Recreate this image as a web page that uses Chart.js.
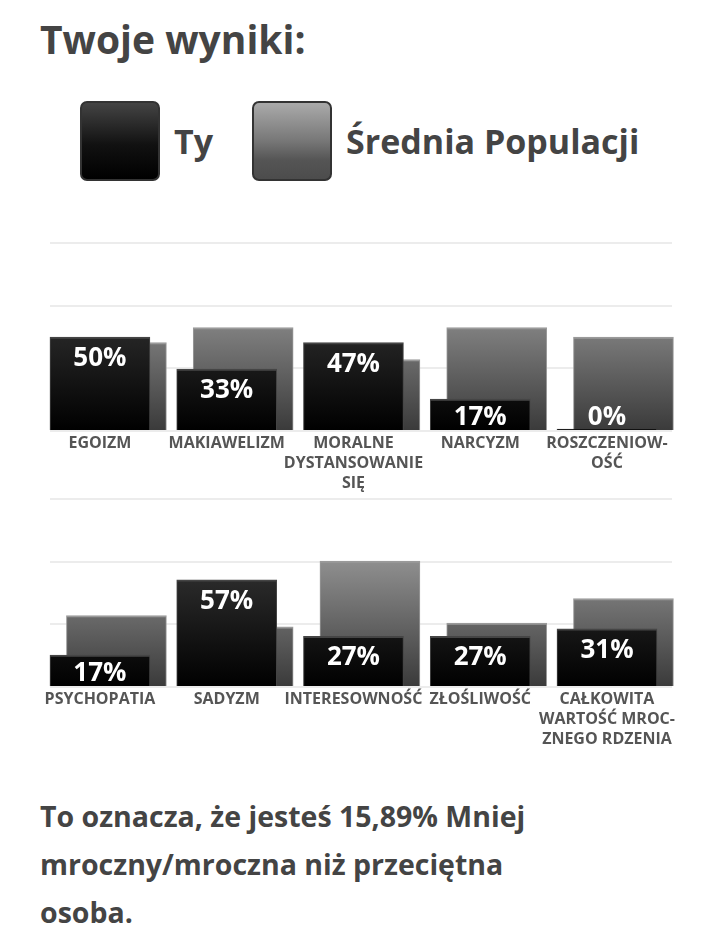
<!DOCTYPE html>
<html>
<head>
<meta charset="utf-8">
<script src="https://cdn.jsdelivr.net/npm/chart.js@4/dist/chart.umd.min.js"></script>
<style>
  body { margin: 0; background: #fff; font-family: "Open Sans", sans-serif; color: #444; }
  .page { position: relative; width: 720px; height: 942px; overflow: hidden; }
  h1 { position: absolute; left: 40px; top: 12px; margin: 0; font-size: 39px; font-weight: 700; line-height: 54px; }
  .legend { position: absolute; top: 101px; left: 80px; display: flex; align-items: center; }
  .legend .box { width: 76px; height: 76px; border: 2px solid #333; border-radius: 7px; }
  .legend .ty { background: linear-gradient(#444 0%, #111 55%, #000 100%); }
  .legend .avg { background: linear-gradient(#aaa 0%, #777 50%, #555 75%, #4c4c4c 100%); }
  .legend span { font-size: 34px; font-weight: 700; margin: 0 0 0 14px; line-height: 40px; }
  .legend span.first { margin-right: 39px; }
  canvas { position: absolute; left: 0; }
  #top { top: 230px; }
  #bottom { top: 486px; }
  .summary { position: absolute; left: 40px; top: 792px; margin: 0; font-size: 28.5px; font-weight: 700; line-height: 48px; }
</style>
</head>
<body>
<div class="page">
  <h1>Twoje wyniki:</h1>
  <div class="legend">
    <div class="box ty"></div><span class="first">Ty</span>
    <div class="box avg"></div><span>Średnia Populacji</span>
  </div>
  <canvas id="top" width="720" height="270"></canvas>
  <canvas id="bottom" width="720" height="270"></canvas>
  <p class="summary">To oznacza, że jesteś 15,89% Mniej<br>mroczny/mroczna niż przeciętna<br>osoba.</p>
</div>
<script>
const labelsTop = ["EGOIZM", "MAKIAWELIZM", ["MORALNE", "DYSTANSOWANIE", "SIĘ"], "NARCYZM", ["ROSZCZENIOW-", "OŚĆ"]];
const tyTop = [50, 33, 47, 17, 0];
const avgTop = [47, 55, 38, 55, 50];

const labelsBottom = ["PSYCHOPATIA", "SADYZM", "INTERESOWNOŚĆ", "ZŁOŚLIWOŚĆ", ["CAŁKOWITA", "WARTOŚĆ MROC-", "ZNEGO RDZENIA"]];
const tyBottom = [17, 57, 27, 27, 31];
const avgBottom = [38, 32, 67, 34, 47];

const seriesNames = ["Ty", "Średnia Populacji"];
const yMax = 100;
const yStep = 100 / 3;

// the average bar sits a bit to the right of the "Ty" bar
const avgShift = 0.13;

function areaGradient(top, bottom) {
  return (ctx) => {
    const area = ctx.chart.chartArea;
    if (!area) return bottom;
    const g = ctx.chart.ctx.createLinearGradient(0, area.top, 0, area.bottom);
    g.addColorStop(0, top);
    g.addColorStop(1, bottom);
    return g;
  };
}

const valueLabels = {
  id: "valueLabels",
  afterDatasetsDraw(chart) {
    const ctx = chart.ctx;
    const meta = chart.getDatasetMeta(0);
    const base = chart.scales.y.getPixelForValue(0);
    ctx.save();
    ctx.fillStyle = "#fff";
    ctx.font = "bold 26px 'Open Sans'";
    ctx.textAlign = "center";
    ctx.textBaseline = "alphabetic";
    meta.data.forEach((bar, i) => {
      const v = chart.data.datasets[0].data[i].y;
      const y = Math.min(bar.y + 29, base - 6);
      ctx.fillText(v + "%", bar.x, y);
    });
    ctx.restore();
  },
};

function renderChart(id, labels, ty, avg) {
  new Chart(document.getElementById(id), {
    type: "bar",
    data: {
      datasets: [
        {
          label: seriesNames[0],
          data: ty.map((v, i) => ({ x: i, y: v })),
          backgroundColor: areaGradient("#4a4a4a", "#000"),
          borderColor: "#454545",
          borderWidth: { top: 2, left: 1, right: 1, bottom: 0 },
          minBarLength: 2,
          clip: false,
        },
        {
          label: seriesNames[1],
          data: avg.map((v, i) => ({ x: i + avgShift, y: v })),
          backgroundColor: areaGradient("#b8b8b8", "#3a3a3a"),
          borderColor: "#9a9a9a",
          borderWidth: { top: 2, left: 1, right: 1, bottom: 0 },
          clip: false,
        },
      ],
    },
    options: {
      responsive: false,
      animation: false,
      grouped: false,
      barThickness: 100,
      layout: { padding: { top: 13, left: 50, right: 48, bottom: 5 } },
      plugins: { legend: { display: false }, tooltip: { enabled: false } },
      scales: {
        x: {
          type: "linear",
          offset: false,
          min: -0.394,
          max: 4.513,
          grid: { display: false, drawTicks: false, tickLength: 0, offset: false },
          border: { display: false },
          ticks: {
            stepSize: 1,
            includeBounds: false,
            autoSkip: false,
            maxRotation: 0,
            padding: 2,
            color: "#555",
            font: { family: "Open Sans", weight: "bold", size: 16, lineHeight: 1.25 },
            callback: (v) => (Number.isInteger(v) && labels[v] !== undefined ? labels[v] : ""),
          },
        },
        y: {
          min: 0,
          max: yMax,
          grid: { color: "#ececec", lineWidth: 2, drawTicks: false },
          border: { display: false },
          ticks: { display: false, stepSize: yStep },
        },
      },
    },
    plugins: [valueLabels],
  });
}

renderChart("top", labelsTop, tyTop, avgTop);
renderChart("bottom", labelsBottom, tyBottom, avgBottom);
</script>
</body>
</html>
